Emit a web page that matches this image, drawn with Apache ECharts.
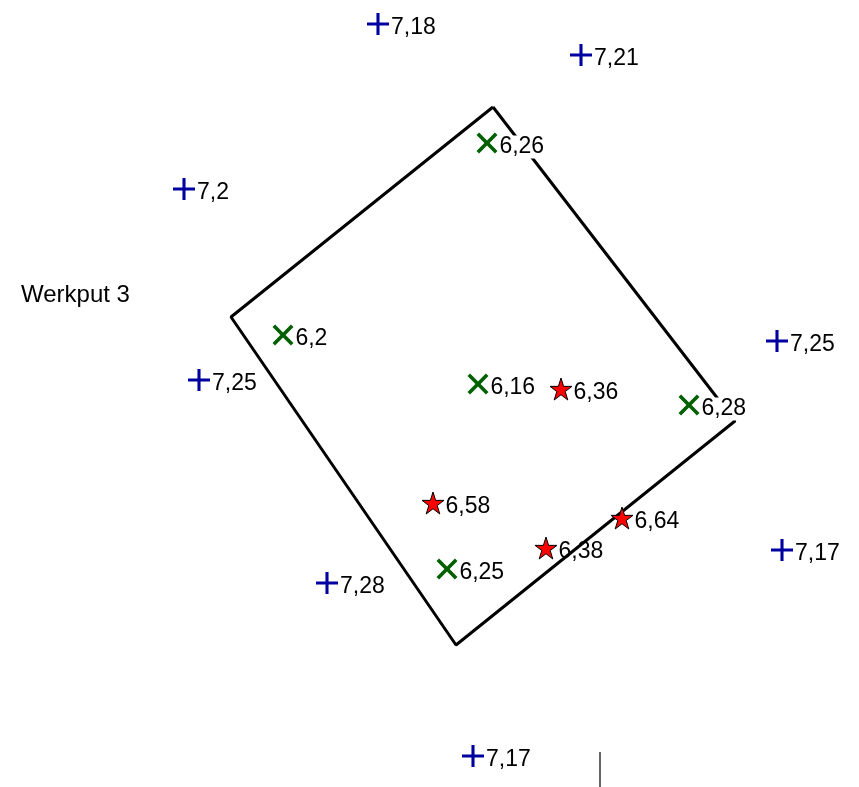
<!DOCTYPE html>
<html><head><meta charset="utf-8">
<script src="https://cdn.jsdelivr.net/npm/echarts@6/dist/echarts.min.js"></script>
<style>html,body{margin:0;padding:0;background:#fff}#c{width:859px;height:787px}</style>
</head><body><div id="c"></div>
<script>
// positions (plot units = pixel-like layout units)
const blueX = [378, 581, 184, 777, 199, 782, 327, 473];
const blueY = [24, 55, 189, 341, 380, 550, 583, 756];
const blueLabels = ['7,18', '7,21', '7,2', '7,25', '7,25', '7,17', '7,28', '7,17'];

const greenX = [487, 283, 478, 689, 447];
const greenY = [143, 335, 384, 405, 569];
const greenLabels = ['6,26', '6,2', '6,16', '6,28', '6,25'];

const redX = [561, 433, 546, 622];
const redY = [389, 503, 548, 518];
const redLabels = ['6,36', '6,58', '6,38', '6,64'];

const polyX = [493, 231, 456, 735, 493];
const polyY = [107, 317, 645, 421, 107];

const FONT = 'Liberation Sans, Arial, sans-serif';
const plusPath = 'path://M8.6,0H11.4V8.6H20V11.4H11.4V20H8.6V11.4H0V8.6H8.6Z';
const starPath = 'path://M50,0L61.8,36.2L100,36.2L69.1,58.6L80.9,95.1L50,72.4L19.1,95.1L30.9,58.6L0,36.2L38.2,36.2Z';

function pts(xs, ys) { return xs.map((x, i) => [x, ys[i]]); }
function lab(labels, bg, dx) {
  return {
    show: true, position: 'right', distance: 1, offset: [dx, 4],
    formatter: p => labels[p.dataIndex],
    color: '#000', fontSize: 23, fontFamily: FONT,
    backgroundColor: bg ? '#fff' : 'transparent', padding: [0, 1]
  };
}

const chart = echarts.init(document.getElementById('c'));
chart.setOption({
  animation: false,
  backgroundColor: '#fff',
  title: { text: 'Werkput 3', left: 16, top: 278, textStyle: { fontWeight: 'normal', fontSize: 24, fontFamily: FONT, color: '#000' } },
  grid: { left: 0, right: 0, top: 0, bottom: 0 },
  xAxis: { type: 'value', min: 0, max: 859, show: false },
  yAxis: { type: 'value', min: 0, max: 787, inverse: true, show: false },
  graphic: [{ type: 'line', shape: { x1: 600, y1: 752, x2: 600, y2: 787 }, style: { stroke: '#666', lineWidth: 2 } }],
  series: [
    { type: 'line', data: pts(polyX, polyY), symbol: 'none', lineStyle: { color: '#000', width: 3 }, z: 1 },
    { type: 'scatter', data: pts(blueX, blueY), symbol: plusPath, symbolSize: 22, itemStyle: { color: '#0000a0', opacity: 1 }, label: lab(blueLabels, false, 0), z: 3 },
    { type: 'scatter', data: pts(greenX, greenY), symbol: plusPath, symbolSize: 26, symbolRotate: 45, itemStyle: { color: '#006000', opacity: 1 }, label: lab(greenLabels, true, -8), z: 3 },
    { type: 'scatter', data: pts(redX, redY), symbol: starPath, symbolSize: 22, itemStyle: { color: '#ff0000', borderColor: '#000', borderWidth: 1, opacity: 1 }, label: lab(redLabels, false, -1), z: 3 }
  ]
});
</script></body></html>
